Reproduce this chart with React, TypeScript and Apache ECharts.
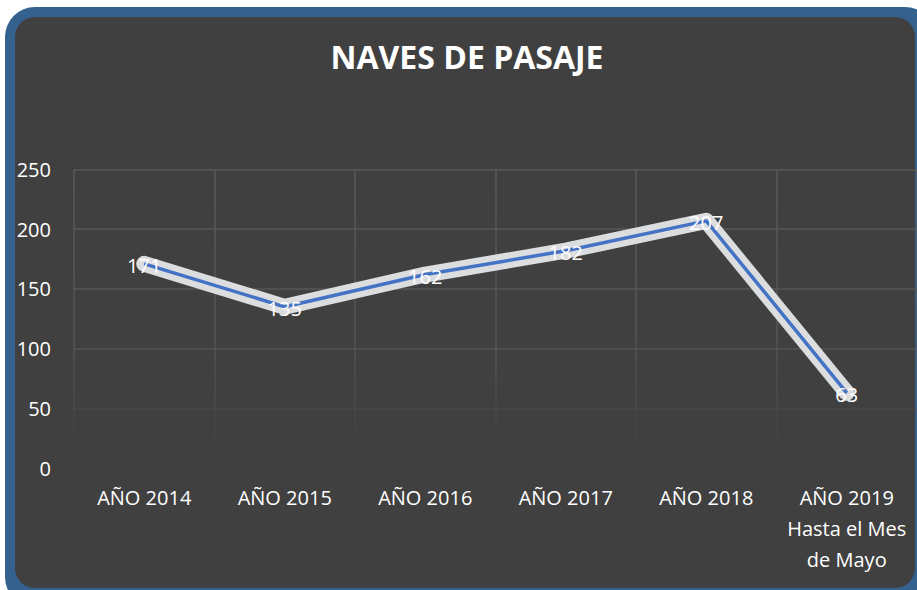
import React, { useEffect, useRef } from "react";
import * as echarts from "echarts";

const categories = [
  "AÑO 2014",
  "AÑO 2015",
  "AÑO 2016",
  "AÑO 2017",
  "AÑO 2018",
  "AÑO 2019\nHasta el Mes\nde Mayo",
];
const values = [171, 135, 162, 182, 207, 63];
const title = "NAVES DE PASAJE";
const FONT = "'Open Sans', 'Noto Sans', sans-serif";

export default function App() {
  const ref = useRef<HTMLDivElement>(null);
  useEffect(() => {
    if (!ref.current) return;
    const chart = echarts.init(ref.current, undefined, { renderer: "svg" });
    const gridGrad = new echarts.graphic.LinearGradient(
      0, 169, 0, 468,
      [
        { offset: 0, color: "#585858" },
        { offset: 0.55, color: "#555555" },
        { offset: 0.8, color: "rgba(88,88,88,0.3)" },
        { offset: 0.95, color: "rgba(88,88,88,0)" },
        { offset: 1, color: "rgba(88,88,88,0)" },
      ],
      true
    );
    chart.setOption({
      animation: false,
      backgroundColor: "transparent",
      textStyle: { fontFamily: FONT },
      graphic: [
        {
          type: "text",
          x: 467,
          y: 56,
          style: {
            text: title,
            fill: "#ffffff",
            font: `bold 32px ${FONT}`,
            textAlign: "center",
            textVerticalAlign: "middle",
          },
        },
      ],
      grid: { left: 74, right: -3, top: 169.5, bottom: 122 },
      xAxis: {
        type: "category",
        data: categories,
        boundaryGap: true,
        axisLine: { show: false },
        axisTick: { show: false },
        axisLabel: {
          color: "#ffffff",
          fontSize: 20,
          fontFamily: FONT,
          lineHeight: 31,
          margin: 14,
          interval: 0,
          align: "center",
        },
        splitLine: { show: true, lineStyle: { color: gridGrad, width: 1.5 } },
      },
      yAxis: {
        type: "value",
        min: 0,
        max: 250,
        interval: 50,
        axisLine: { show: false },
        axisTick: { show: false },
        axisLabel: { color: "#ffffff", fontSize: 20, fontFamily: FONT, margin: 23 },
        splitLine: { show: true, lineStyle: { color: gridGrad, width: 1.5 } },
      },
      series: [
        {
          type: "line",
          data: values,
          symbol: "none",
          lineStyle: { color: "#DCDDDF", width: 16, cap: "round", join: "round" },
          z: 2,
          silent: true,
        },
        {
          type: "line",
          data: values,
          symbol: "circle",
          symbolSize: 1,
          itemStyle: { color: "#4472C4" },
          lineStyle: { color: "#4472C4", width: 3.5 },
          z: 3,
          label: {
            show: true,
            position: "inside",
            offset: [0, 2],
            color: "#ffffff",
            fontSize: 20,
            fontFamily: FONT,
          },
        },
      ],
    });
    return () => chart.dispose();
  }, []);

  return (
    <div style={{ position: "fixed", left: 0, top: 0, width: 917, height: 590, overflow: "hidden", background: "#ffffff" }}>
      <div style={{ position: "absolute", left: 5, top: 7, width: 930, height: 600, background: "#35618F", borderRadius: 30 }} />
      <div style={{ position: "absolute", left: 15, top: 17, width: 900, height: 571, background: "#404040", borderRadius: 20 }} />
      <div ref={ref} style={{ position: "absolute", left: 0, top: 0, width: 917, height: 590 }} />
    </div>
  );
}
